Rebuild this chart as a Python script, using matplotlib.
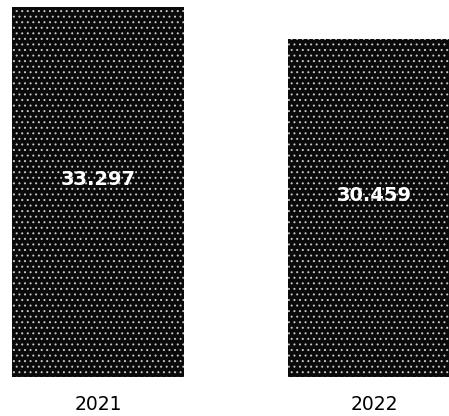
import matplotlib
matplotlib.use("Agg")
import matplotlib.pyplot as plt

years = ["2021", "2022"]
values = [33.297, 30.459]

plt.rcParams["hatch.linewidth"] = 0.7

fig = plt.figure(figsize=(4.49, 4.16), dpi=100, facecolor="white")
ax = fig.add_axes([0, 0.094, 1, 0.906])

x = range(len(years))
bars = ax.bar(x, values, width=0.623, color="#0a0a0a", edgecolor="#c8c8c8",
              hatch="...", linewidth=0)

for xi, v in zip(x, values):
    ax.annotate(f"{v:.3f}", xy=(xi, v / 2), xytext=(0, 9), textcoords="offset points",
                ha="center", va="center", color="white", fontsize=14,
                fontweight="bold")

ax.set_xlim(-0.355, 1.272)
ax.set_ylim(0, 33.93)
ax.set_xticks(list(x))
ax.set_xticklabels(years, fontsize=13.5)
ax.tick_params(axis="x", length=0, pad=13)
ax.set_yticks([])
for s in ax.spines.values():
    s.set_visible(False)

fig.savefig("out.png", dpi=100)
